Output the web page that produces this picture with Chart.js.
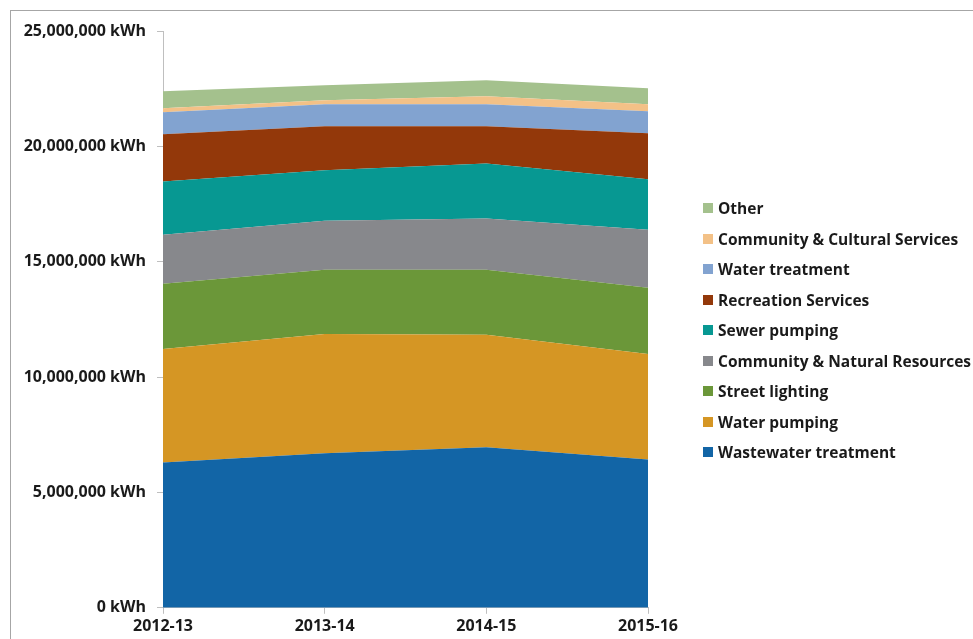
<!DOCTYPE html>
<html>
<head>
<meta charset="utf-8">
<script src="https://cdn.jsdelivr.net/npm/chart.js@4.4.1/dist/chart.umd.min.js"></script>
<style>
  html, body { margin: 0; padding: 0; background: #fff; }
  #wrap { position: relative; width: 973px; height: 639px; overflow: hidden; }
  #frame { position: absolute; left: 10px; top: 10px; width: 1000px; height: 700px; border: 1px solid #a6a6a6; box-sizing: border-box; }
  #c { position: absolute; left: 0; top: 0; }
  #legend { position: absolute; left: 703px; top: 193px; font-family: "Open Sans", sans-serif; font-weight: bold; font-size: 15.5px; color: #1a1a1a; }
  .li { height: 30.5px; line-height: 18px; display: flex; align-items: center; white-space: nowrap; }
  .li .sw { width: 10px; height: 10px; margin-right: 5px; flex: none; }
</style>
</head>
<body>
<div id="wrap">
  <div id="frame"></div>
  <canvas id="c" width="973" height="639"></canvas>
  <div id="legend"></div>
</div>
<script>
const categories = ["2012-13", "2013-14", "2014-15", "2015-16"];

const seriesNames = [
  "Wastewater treatment",
  "Water pumping",
  "Street lighting",
  "Community & Natural Resources",
  "Sewer pumping",
  "Recreation Services",
  "Water treatment",
  "Community & Cultural Services",
  "Other"
];

const wastewaterTreatment   = [6300000, 6700000, 6960000, 6430000];
const waterPumping          = [4920000, 5170000, 4870000, 4570000];
const streetLighting        = [2820000, 2780000, 2820000, 2870000];
const communityNatural      = [2130000, 2130000, 2220000, 2520000];
const sewerPumping          = [2310000, 2180000, 2390000, 2180000];
const recreationServices    = [2040000, 1910000, 1610000, 2000000];
const waterTreatment        = [960000, 960000, 960000, 950000];
const communityCultural     = [170000, 170000, 340000, 310000];
const other                 = [740000, 650000, 700000, 690000];

const yTicks = [0, 5000000, 10000000, 15000000, 20000000, 25000000];

const seriesValues = [wastewaterTreatment, waterPumping, streetLighting, communityNatural,
  sewerPumping, recreationServices, waterTreatment, communityCultural, other];

const colors = ["#1265a6", "#d59624", "#6b9739", "#87888c", "#079892", "#93380a", "#82a3d0", "#f3c187", "#a4c18d"];

const datasets = seriesNames.map((name, i) => ({
  label: name,
  data: seriesValues[i],
  backgroundColor: colors[i],
  borderColor: colors[i],
  borderWidth: 0,
  pointRadius: 0,
  pointHoverRadius: 0,
  tension: 0,
  fill: i === 0 ? 'origin' : '-1'
}));

const axisColor = '#bfbfbf';
const tickFont = { family: '"Open Sans", sans-serif', weight: 'bold', size: 16 };

new Chart(document.getElementById('c'), {
  type: 'line',
  data: { labels: categories, datasets },
  options: {
    responsive: false,
    animation: false,
    events: [],
    layout: { padding: { top: 31, right: 325, bottom: 0, left: 0 } },
    plugins: { legend: { display: false }, tooltip: { enabled: false } },
    scales: {
      x: {
        type: 'category',
        offset: false,
        grid: { display: true, drawOnChartArea: false, drawTicks: true, tickLength: 6, color: axisColor },
        border: { display: true, color: axisColor },
        ticks: { color: '#1a1a1a', font: tickFont, padding: 3, maxRotation: 0, autoSkip: false }
      },
      y: {
        stacked: true,
        min: 0,
        max: 25000000,
        afterBuildTicks: (s) => { s.ticks = yTicks.map(v => ({ value: v })); },
        afterFit: (s) => { s.width = 163; },
        grid: { display: true, drawOnChartArea: false, drawTicks: true, tickLength: 6, color: axisColor },
        border: { display: true, color: axisColor },
        ticks: {
          color: '#1a1a1a', font: tickFont, padding: 11,
          callback: (v) => Number(v).toLocaleString('en-US') + ' kWh'
        }
      }
    }
  }
});

const legend = document.getElementById('legend');
for (let i = seriesNames.length - 1; i >= 0; i--) {
  const row = document.createElement('div');
  row.className = 'li';
  const sw = document.createElement('span');
  sw.className = 'sw';
  sw.style.background = colors[i];
  const tx = document.createElement('span');
  tx.textContent = seriesNames[i];
  row.appendChild(sw); row.appendChild(tx);
  legend.appendChild(row);
}
</script>
</body>
</html>
